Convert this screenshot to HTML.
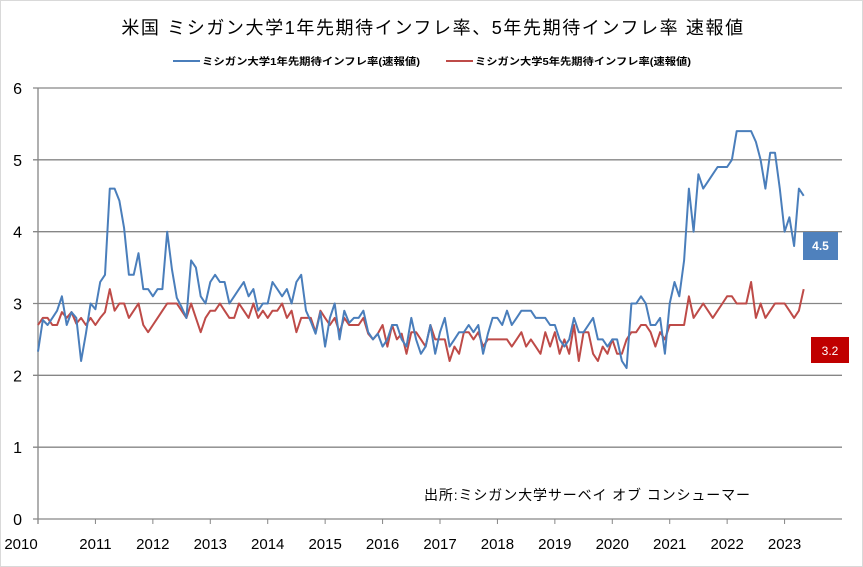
<!DOCTYPE html>
<html><head><meta charset="utf-8"><style>
html,body{margin:0;padding:0;background:#fff;}
svg{display:block;font-family:"Liberation Sans","Noto Sans CJK JP",sans-serif;}
</style></head><body>
<svg id="chart" width="863" height="567" viewBox="0 0 863 567">
<rect x="0.5" y="0.5" width="862" height="566" fill="#fff" stroke="#d9d9d9"/>
<text x="433" y="34" text-anchor="middle" font-size="18" letter-spacing="1.6" fill="#000">米国 ミシガン大学1年先期待インフレ率、5年先期待インフレ率 速報値</text>
<g>
<g><line x1="173" y1="61" x2="200" y2="61" stroke="#4a7ebb" stroke-width="2"/><text x="202" y="65" font-size="10" font-weight="bold" textLength="218" lengthAdjust="spacingAndGlyphs">ミシガン大学1年先期待インフレ率(速報値)</text></g>
<g><line x1="446" y1="61" x2="473" y2="61" stroke="#be4b48" stroke-width="2"/><text x="475" y="65" font-size="10" font-weight="bold" textLength="216" lengthAdjust="spacingAndGlyphs">ミシガン大学5年先期待インフレ率(速報値)</text></g>
</g>
<g id="grid"></g>
<g id="yticks"></g>
<g id="xticks"></g>
<g id="series"></g>
<text x="424" y="500" font-size="14" textLength="326" lengthAdjust="spacing">出所:ミシガン大学サーベイ オブ コンシューマー</text>
<g><rect x="803" y="232" width="35" height="28" fill="#4f81bd"/><text id="lbl1" x="820.5" y="250" text-anchor="middle" font-size="12" font-weight="bold" fill="#fff"></text></g>
<g><rect x="811" y="337" width="38" height="26" fill="#c00000"/><text id="lbl5" x="830" y="355" text-anchor="middle" font-size="12" fill="#fff"></text></g>
</svg>
<script>
const yTicks=[0,1,2,3,4,5,6];
const xYears=[2010,2011,2012,2013,2014,2015,2016,2017,2018,2019,2020,2021,2022,2023];
const oneYear=[2.33,2.77,2.7,2.8,2.9,3.1,2.7,2.88,2.8,2.2,2.58,3.0,2.92,3.3,3.4,4.6,4.6,4.43,4.05,3.4,3.4,3.7,3.2,3.2,3.1,3.2,3.2,4.0,3.47,3.08,2.95,2.8,3.6,3.5,3.1,3.0,3.3,3.4,3.3,3.3,3.0,3.1,3.2,3.3,3.1,3.2,2.9,3.0,3.0,3.3,3.2,3.1,3.2,3.0,3.3,3.4,2.9,
2.75,
2.58,2.88,2.4,2.8,3.0,2.5,2.9,2.73,2.8,2.8,2.9,2.6,2.5,2.58,2.4,2.5,2.7,2.7,2.5,2.4,2.8,2.5,2.3,2.4,2.7,2.3,2.6,2.8,2.4,2.5,2.6,2.6,2.7,2.6,2.7,2.3,2.58,2.8,2.8,2.7,2.9,2.7,2.8,2.9,2.9,2.9,2.8,2.8,2.8,2.7,2.7,2.5,2.4,2.5,2.8,2.6,2.6,2.7,2.8,2.5,2.5,2.4,2.5,2.5,2.2,2.1,3.0,3.0,
3.1,3.0,2.7,2.7,2.8,2.3,3.0,3.3,3.1,3.6,4.6,4.0,4.8,4.6,4.7,4.8,4.9,4.9,4.9,5.0,5.4,5.4,5.4,5.4,5.25,5.0,4.6,5.1,5.1,4.6,4.0,4.2,3.8,4.6,4.5];
const fiveYear=[2.7,2.8,2.8,2.7,2.7,2.88,2.8,2.88,2.72,2.8,2.7,2.8,2.7,2.8,2.88,3.2,2.9,3.0,3.0,2.8,2.9,3.0,2.7,2.6,2.7,2.8,2.9,3.0,3.0,3.0,2.9,2.8,3.0,2.8,2.6,2.8,2.9,2.9,3.0,2.9,2.8,2.8,3.0,2.9,2.8,3.0,2.8,2.9,2.8,2.9,2.9,3.0,2.8,2.9,2.6,2.8,2.8,
2.8,
2.6,2.9,2.8,2.7,2.8,2.6,2.8,2.7,2.7,2.7,2.8,2.58,2.5,2.58,2.7,2.4,2.7,2.5,2.58,2.3,2.6,2.6,2.5,2.4,2.7,2.5,2.5,2.5,2.2,2.4,2.3,2.6,2.6,2.5,2.6,2.4,2.5,2.5,2.5,2.5,2.5,2.4,2.5,2.6,2.4,2.5,2.4,2.3,2.6,2.4,2.6,2.3,2.5,2.3,2.7,2.2,2.6,2.6,2.3,2.2,2.4,2.3,2.5,2.3,2.3,2.5,2.6,2.6,
2.7,2.7,2.6,2.4,2.6,2.5,2.7,2.7,2.7,2.7,3.1,2.8,2.9,3.0,2.9,2.8,2.9,3.0,3.1,3.1,3.0,3.0,3.0,3.3,2.8,3.0,2.8,2.9,3.0,3.0,3.0,2.9,2.8,2.9,3.2];
const NS='http://www.w3.org/2000/svg';
const X0=38,X1=842,Y0=519,YT=88;
const yPx=v=>Y0-(v/6)*(Y0-YT);
const perYear=(X1-X0)/14;
const xPx=i=>X0+i*perYear/12;
function mk(tag,attrs,parent){const e=document.createElementNS(NS,tag);for(const k in attrs)e.setAttribute(k,attrs[k]);parent.appendChild(e);return e;}
const grid=document.getElementById('grid'),yt=document.getElementById('yticks'),xt=document.getElementById('xticks'),ser=document.getElementById('series');
yTicks.forEach(v=>{
  const l=mk('line',{x1:X0-5,x2:X1,y1:yPx(v),y2:yPx(v),stroke:'#868686','stroke-width':1.3},grid);
  
  
  const t=mk('text',{x:22,y:yPx(v)+6,'text-anchor':'end','font-size':16},yt);
  t.textContent=v;
  
  
});
const ax=mk('line',{x1:X0,x2:X0,y1:YT,y2:Y0+5,stroke:'#868686','stroke-width':1.3},yt);


xYears.forEach((y,k)=>{
  const x=X0+k*perYear;
  const tk=mk('line',{x1:x,x2:x,y1:Y0,y2:Y0+5,stroke:'#868686'},xt);
  
  
  const t=mk('text',{x:k===0?21:x,y:Y0+30,'text-anchor':'middle','font-size':15},xt);
  t.textContent=y;
  
  
});
function line(arr,color,name){
  const p=mk('polyline',{points:arr.map((v,i)=>xPx(i).toFixed(1)+','+yPx(v).toFixed(1)).join(' '),fill:'none',stroke:color,'stroke-width':2,'stroke-linejoin':'round'},ser);
  
  
}
line(fiveYear,'#be4b48','line-5y-expectation');
line(oneYear,'#4a7ebb','line-1y-expectation');
document.getElementById('lbl1').textContent=oneYear[oneYear.length-1].toFixed(1);
document.getElementById('lbl5').textContent=fiveYear[fiveYear.length-1].toFixed(1);
</script>
</body></html>
